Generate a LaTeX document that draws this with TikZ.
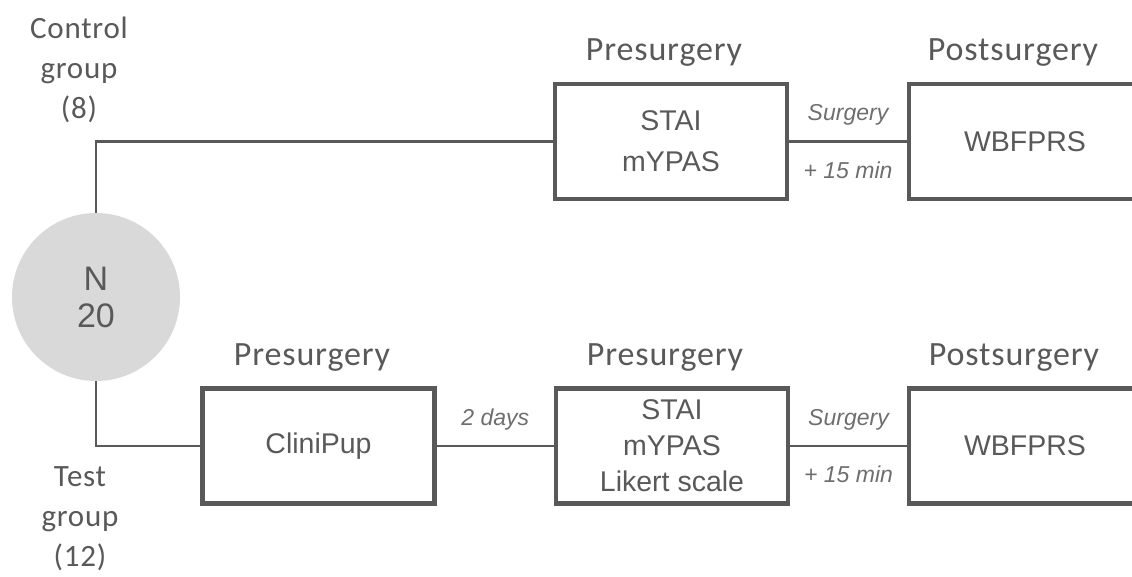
\documentclass[tikz,border=0pt]{standalone}
\usepackage{fontspec}
\setmainfont{Liberation Sans}
\newfontfamily\calfont{Carlito}[LetterSpace=2.5]
\definecolor{boxgray}{HTML}{595959}
\definecolor{txtgray}{HTML}{595959}
\definecolor{itgray}{HTML}{6E6E6E}
\definecolor{circfill}{HTML}{D9D9D9}
\begin{document}
\begin{tikzpicture}[x=1pt,y=-1pt,
  stagebox/.style={draw=boxgray, line width=4.5pt, minimum width=232pt, minimum height=115pt,
    inner sep=0pt, align=center, text=txtgray, font=\fontsize{28.5}{41}\selectfont},
  stageboxb/.style={stagebox, font=\fontsize{28.5}{36}\selectfont},
  heading/.style={anchor=base, text=txtgray, inner sep=0pt, font=\calfont\fontsize{34}{38}\selectfont},
  grouplbl/.style={align=center, text=txtgray, inner sep=0pt, font=\calfont\fontsize{31}{40}\selectfont},
  conn/.style={draw=boxgray, line width=2.2pt},
  timelbl/.style={text=itgray, inner sep=0pt, font=\itshape\fontsize{23}{26}\selectfont}
]
\useasboundingbox (0,0) rectangle (1132,577);
\clip (0,0) rectangle (1132,577);

% population circle
\node[circle, fill=circfill, minimum size=168pt, inner sep=0pt, align=center, text=txtgray,
      font=\fontsize{34}{37}\selectfont] (pop) at (96,297) {N\\20};

% group labels
\node[grouplbl] (ctrl) at (79,70) {Control\\group\\(8)};
\node[grouplbl] (test) at (80,519) {Test\\group\\(12)};

% control row
\node[stagebox] (cpre) at (671,141.5) {STAI\\mYPAS};
\node[stagebox] (cpost) at (1025,141.5) {WBFPRS};
\node[heading] (hcpre) at (664,61) {Presurgery};
\node[heading] (hcpost) at (1013,61) {Postsurgery};

% test row
\node[stageboxb] (tclin) at (318.5,446) {CliniPup};
\node[stageboxb] (tpre) at (672,446) {STAI\\mYPAS\\Likert scale};
\node[stageboxb] (tpost) at (1025,446) {WBFPRS};
\node[heading] (htclin) at (312,365) {Presurgery};
\node[heading] (htpre) at (665,365) {Presurgery};
\node[heading] (htpost) at (1014,365) {Postsurgery};

% connectors
\draw[conn] (pop.north) |- (cpre.west);
\draw[conn] (pop.south) |- (tclin.west);
\draw[conn] (cpre.east) -- node[timelbl, above=15pt] (s1) {Surgery}
                          node[timelbl, below=19pt] (m1) {+ 15 min} (cpost.west);
\draw[conn] (tclin.east) -- node[timelbl, above=15pt] (d2) {2 days} (tpre.west);
\draw[conn] (tpre.east) -- node[timelbl, above=15pt] (s2) {Surgery}
                          node[timelbl, below=19pt] (m2) {+ 15 min} (tpost.west);
\end{tikzpicture}
\end{document}
